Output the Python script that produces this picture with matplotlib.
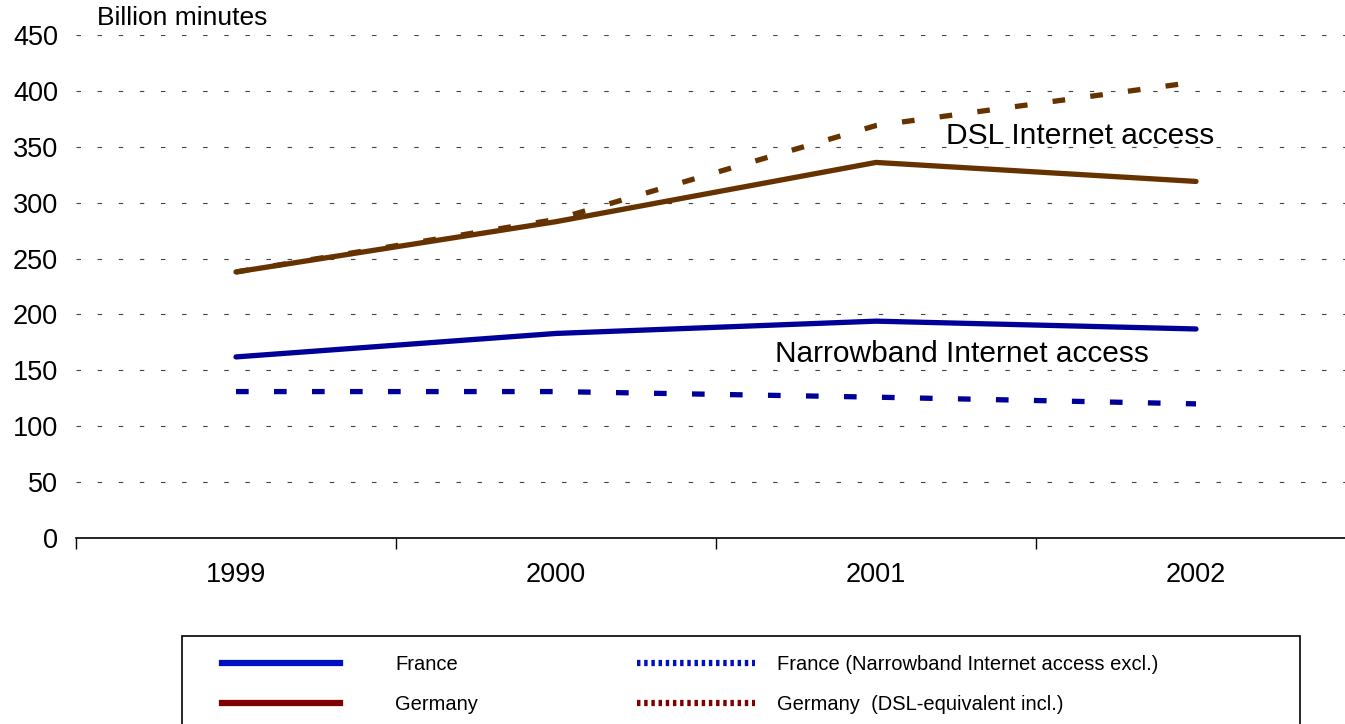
import matplotlib.pyplot as plt
from matplotlib.lines import Line2D
from matplotlib.patches import Rectangle

plt.rcParams['font.family'] = ['Liberation Sans', 'DejaVu Sans']

years = ["1999", "2000", "2001", "2002"]
france = [162, 183, 194, 187]
france_excl = [131, 131, 126, 120]
germany = [238, 283, 336, 319]
germany_incl = [238, 285, 369, 408]

solid_labels = ["France", "Germany"]
alt_labels = ["France (Narrowband Internet access excl.)",
              "Germany  (DSL-equivalent incl.)"]

W, H = 1345, 724
fig = plt.figure(figsize=(W / 100, H / 100), dpi=100)
ax = fig.add_axes([76 / W, 1 - 538 / H, 1280 / W, 503 / H])

x = list(range(len(years)))
ax.plot(x, germany_incl, color="#663300", lw=3.8, linestyle=(0, (2.4, 4.8)),
        dash_capstyle="butt", zorder=3)
ax.plot(x, germany, color="#663300", lw=3.8, solid_capstyle="round", zorder=3)
ax.plot(x, france, color="#000099", lw=3.8, solid_capstyle="round", zorder=3)
ax.plot(x, france_excl, color="#000099", lw=3.8, linestyle=(0, (2.4, 4.8)),
        dash_capstyle="butt", zorder=3)

ax.set_xlim(-0.5, 3.5)
ax.set_ylim(0, 450)
ax.set_yticks(range(0, 451, 50))
ax.tick_params(axis="y", length=0, pad=13, labelsize=19.5)
ax.set_xticks(x)
ax.set_xticklabels(years)
ax.set_xticks([-0.5, 0.5, 1.5, 2.5, 3.5], minor=True)
ax.tick_params(axis="x", which="major", length=0, pad=17, labelsize=19.5)
ax.tick_params(axis="x", which="minor", length=8, width=1, direction="out")

for s in ["top", "right", "left"]:
    ax.spines[s].set_visible(False)
ax.spines["bottom"].set_linewidth(1.2)

ax.grid(axis="y", color="#444444", linewidth=0.8, linestyle=(0, (4, 15)))
ax.grid(axis="x", visible=False)
ax.set_axisbelow(True)

ax.text(2.219, 360, "DSL Internet access", fontsize=21.5, va="center", ha="left")
ax.text(1.684, 165, "Narrowband Internet access", fontsize=21.5, va="center", ha="left")

fig.text(97 / W, 1 - 18 / H, "Billion minutes", fontsize=19, va="center", ha="left")

# legend box
fig.patches.append(Rectangle((182 / W, -0.05), (1300 - 182) / W, 0.05 + (724 - 636) / H,
                             transform=fig.transFigure, fill=False,
                             edgecolor="black", linewidth=1.2))
solid_handles = [
    Line2D([], [], color="#0010C0", lw=4.5),
    Line2D([], [], color="#800000", lw=4.5),
]
alt_handles = [
    Line2D([], [], color="#0010C0", lw=4.5, linestyle=(0, (0.55, 0.6))),
    Line2D([], [], color="#800000", lw=4.5, linestyle=(0, (0.55, 0.6))),
]
common = dict(loc="upper left", frameon=False, borderpad=0, borderaxespad=0,
              handlelength=5.87, labelspacing=1.05,
              prop={"family": ["Liberation Sans"], "size": 14.5})
fig.legend(solid_handles, solid_labels, bbox_to_anchor=(222 / W, 1 - 655 / H),
           handletextpad=2.73, **common)
fig.legend(alt_handles, alt_labels, bbox_to_anchor=(637 / W, 1 - 655 / H),
           handletextpad=1.1, **common)

fig.savefig("out.png", dpi=100)
